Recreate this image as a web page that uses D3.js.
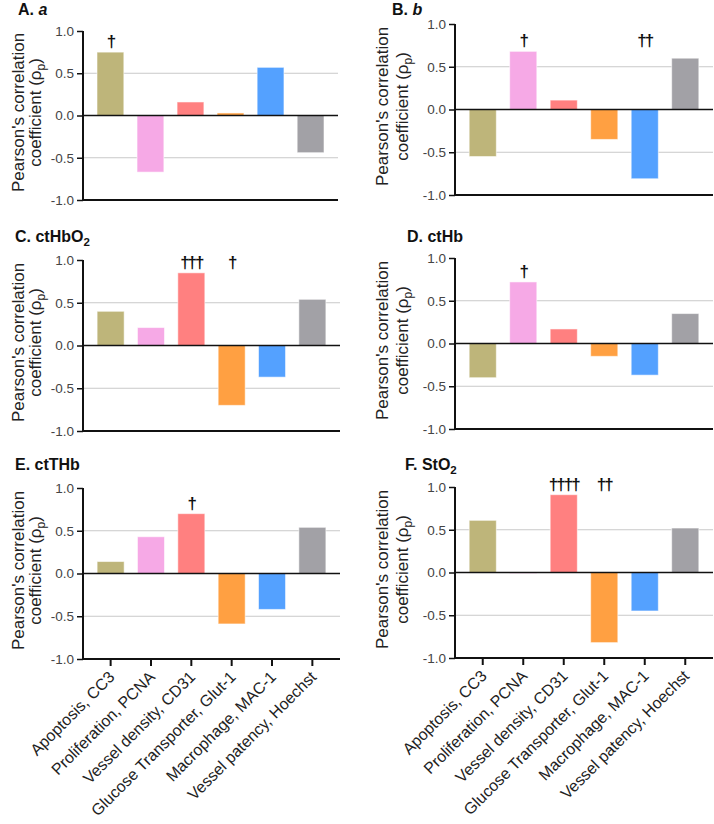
<!DOCTYPE html>
<html><head><meta charset="utf-8">
<script src="https://cdn.jsdelivr.net/npm/d3@7/dist/d3.min.js"></script>
<style>
body{margin:0;background:#fff}
svg{display:block;font-family:"Liberation Sans",Arial,Helvetica,sans-serif}
</style>
</head><body>
<svg id="chart" width="714" height="824"></svg>
<script>
// ---------------- data ----------------
const categories = ["Apoptosis, CC3","Proliferation, PCNA","Vessel density, CD31","Glucose Transporter, Glut-1","Macrophage, MAC-1","Vessel patency, Hoechst"];
const barColors = ["#BEB57A","#F6A9E6","#FF8080","#FFA042","#54A1FF","#A2A1A6"];
const yTickValues = [1.0, 0.5, 0.0, -0.5, -1.0];
const gridValues = [0.5, -0.5];
const panelLetters = ["A","B","C","D","E","F"];
const panelNames = ["a","b","ctHbO","ctHb","ctTHb","StO"];
const panelSubs = ["","","2","","","2"];
const valuesA = [0.75,-0.67,0.16,0.03,0.57,-0.44];
const valuesB = [-0.55,0.68,0.11,-0.35,-0.81,0.60];
const valuesC = [0.40,0.21,0.85,-0.70,-0.37,0.54];
const valuesD = [-0.40,0.72,0.17,-0.15,-0.37,0.35];
const valuesE = [0.14,0.43,0.70,-0.59,-0.42,0.54];
const valuesF = [0.61,-0.01,0.91,-0.82,-0.45,0.52];
const daggersA = ["†","","","","",""];
const daggersB = ["","†","","","††",""];
const daggersC = ["","","†††","†","",""];
const daggersD = ["","†","","","",""];
const daggersE = ["","","†","","",""];
const daggersF = ["","","††††","††","",""];
const allValues = [valuesA,valuesB,valuesC,valuesD,valuesE,valuesF];
const allDaggers = [daggersA,daggersB,daggersC,daggersD,daggersE,daggersF];

// ---------------- layout ----------------
const layout = [
  {x0:83,  x1:338, yTop:31,  yBot:200, tx:18,  tb:15,  l1:24,  l2:41,  xlab:false, italic:true},
  {x0:455, x1:713, yTop:24,  yBot:195, tx:392, tb:15,  l1:388, l2:408, xlab:false, italic:true},
  {x0:83,  x1:340, yTop:260, yBot:431, tx:15,  tb:242, l1:24,  l2:41,  xlab:false, italic:false},
  {x0:455, x1:713, yTop:258, yBot:429, tx:407, tb:242, l1:388, l2:408, xlab:false, italic:false},
  {x0:83,  x1:340, yTop:488, yBot:659, tx:15,  tb:470, l1:24,  l2:41,  xlab:true,  italic:false},
  {x0:455, x1:713, yTop:487, yBot:658, tx:405, tb:470, l1:388, l2:408, xlab:true,  italic:false}
];

const svg = d3.select("#chart");

layout.forEach((L, p) => {
  const vals = allValues[p];
  const dag = allDaggers[p];
  const x = d3.scaleBand().domain(categories).range([L.x0, L.x1]).paddingInner(0.33).paddingOuter(0.35);
  const y = d3.scaleLinear().domain([-1, 1]).range([L.yBot, L.yTop]);
  const g = svg.append("g");

  // gridlines
  g.selectAll("line.grid").data(gridValues).join("line")
    .attr("x1", L.x0).attr("x2", L.x1)
    .attr("y1", d => y(d)).attr("y2", d => y(d))
    .attr("stroke", "#c9c9c9").attr("stroke-width", 1);

  // bars
  g.selectAll("rect.bar").data(categories).join("rect")
    .attr("x", d => x(d))
    .attr("width", x.bandwidth())
    .attr("y", (d,i) => y(Math.max(0, vals[i])))
    .attr("height", (d,i) => Math.max(1, Math.abs(y(vals[i]) - y(0))))
    .attr("fill", (d,i) => barColors[i])
    .attr("stroke", "rgba(255,255,255,0.55)").attr("stroke-width", 1);

  // zero line
  g.append("line").attr("x1", L.x0).attr("x2", L.x1).attr("y1", y(0)).attr("y2", y(0))
    .attr("stroke", "#111").attr("stroke-width", 1.6);

  // y axis
  const yAxis = d3.axisLeft(y).tickValues(yTickValues).tickSize(6).tickPadding(3);
  const ya = g.append("g").attr("transform", `translate(${L.x0},0)`).call(yAxis);
  ya.select(".domain").attr("stroke", "#111").attr("stroke-width", 2).attr("d", `M0,${L.yTop}V${L.yBot}`);
  ya.selectAll(".tick line").attr("stroke", "#111").attr("stroke-width", 1.5);
  ya.selectAll(".tick text").attr("fill", "#444").style("font-size", "13.5px")
    .style("font-family", '"Liberation Sans",Arial,sans-serif')
    .text(d => d < 0 ? "-" + Math.abs(d).toFixed(1) : d.toFixed(1));

  // x axis
  const xAxis = d3.axisBottom(x).tickSizeOuter(0).tickSizeInner(L.xlab ? 7 : 0).tickFormat("");
  const xa = g.append("g").attr("transform", `translate(0,${L.yBot})`).call(xAxis);
  xa.select(".domain").attr("stroke", "#111").attr("stroke-width", 2).attr("d", `M${L.x0 - 1},0H${L.x1}`);
  xa.selectAll(".tick line").attr("stroke", "#111").attr("stroke-width", 2);

  if (L.xlab) {
    g.selectAll("text.xl").data(categories).join("text")
      .attr("transform", d => `translate(${x(d) + x.bandwidth()/2 + 5},${L.yBot + 19}) rotate(-45)`)
      .attr("text-anchor", "end")
      .style("font-size", "16px").attr("fill", "#222")
      .text(d => d);
  }

  // daggers
  const marked = vals.filter((v,i) => dag[i] !== "");
  const rowVal = Math.max(0, d3.max(marked));
  g.selectAll("text.dag").data(categories).join("text")
    .attr("x", d => x(d) + x.bandwidth()/2)
    .attr("y", y(rowVal) - 5)
    .attr("text-anchor", "middle")
    .style("font-size", "17px").style("font-weight", "bold").attr("fill", "#111")
    .attr("letter-spacing", "-2")
    .text((d,i) => dag[i]);

  // y label
  const cy = y(0) - 3;
  g.append("text").attr("transform", `translate(${L.l1},${cy}) rotate(-90)`)
    .attr("text-anchor", "middle").style("font-size", "17px").attr("fill", "#222")
    .text("Pearson's correlation");
  const t2 = g.append("text").attr("transform", `translate(${L.l2},${cy}) rotate(-90)`)
    .attr("text-anchor", "middle").style("font-size", "17px").attr("fill", "#222");
  t2.append("tspan").text("coefficient (ρ");
  t2.append("tspan").attr("dy", 4).style("font-size", "12px").text("p");
  t2.append("tspan").attr("dy", -4).text(")");

  // title
  const tt = g.append("text").attr("x", L.tx).attr("y", L.tb)
    .style("font-size", "16px").style("font-weight", "bold").attr("fill", "#111");
  tt.append("tspan").text(panelLetters[p] + ". ");
  const nm = tt.append("tspan").text(panelNames[p]);
  if (L.italic) nm.style("font-style", "italic");
  if (panelSubs[p]) {
    tt.append("tspan").attr("dy", 4).style("font-size", "11.5px").text(panelSubs[p]);
  }
});
</script>
</body></html>
